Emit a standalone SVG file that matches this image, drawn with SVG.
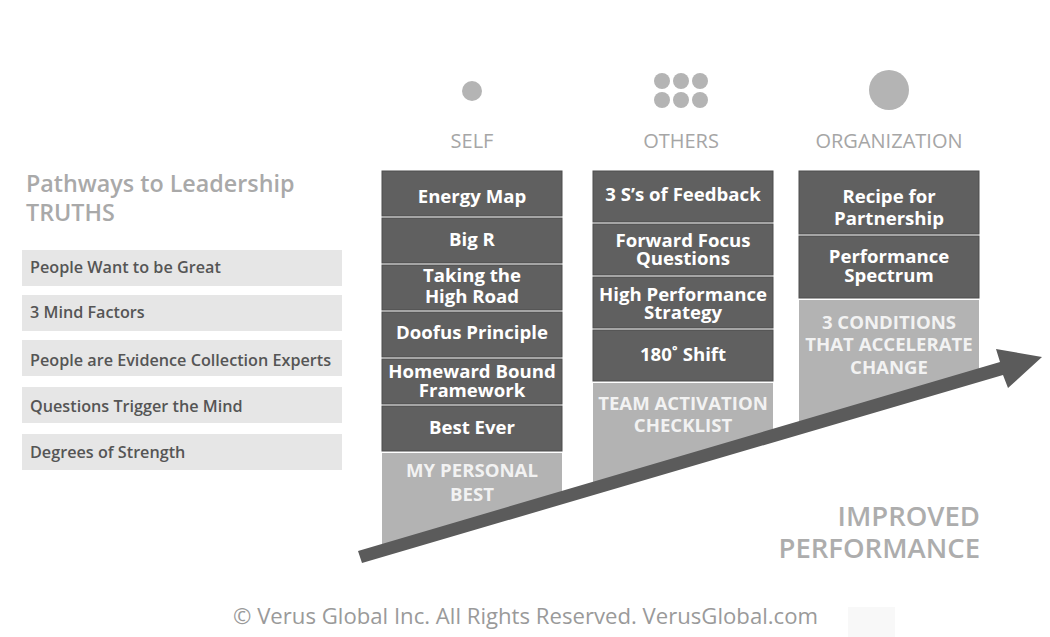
<svg xmlns="http://www.w3.org/2000/svg" width="1050" height="637" viewBox="0 0 1050 637">
  <style>
    .bg { fill: #ffffff; }
    .title { font-family: "Open Sans", "Liberation Sans", sans-serif; font-size: 23.3px; font-weight: 600; fill: #a9a9a9; }
    .truth rect { fill: #e6e6e6; }
    .truth text { font-family: "Open Sans", "Liberation Sans", sans-serif; font-size: 16.2px; font-weight: 600; fill: #555555; }
    .head { font-family: "Open Sans", "Liberation Sans", sans-serif; font-size: 20px; font-weight: 400; fill: #a6a6a6; text-anchor: middle; }
    .icon { fill: #b4b4b4; }
    .tool rect { fill: #606060; stroke: #4c4c4c; stroke-width: 1; }
    .tool text { font-family: "Open Sans", "Liberation Sans", sans-serif; font-size: 18.6px; font-weight: 700; fill: #ffffff; text-anchor: middle; }
    .core polygon { fill: #b3b3b3; stroke: none; }
    .core text { font-family: "Open Sans", "Liberation Sans", sans-serif; font-size: 18.6px; font-weight: 700; fill: #f2f2f2; text-anchor: middle; }
    .result { font-family: "Open Sans", "Liberation Sans", sans-serif; font-size: 27.5px; font-weight: 600; fill: #adadad; text-anchor: end; }
    .copy { font-family: "Open Sans", "Liberation Sans", sans-serif; font-size: 22px; font-weight: 400; fill: #9a9a9a; }
    .arrow { fill: #5b5b5b; }
  </style>

  <rect class="bg" x="0" y="0" width="1050" height="637"/>

  <!-- Left panel: leadership truths -->
  <g id="truths-title">
    <text class="title" x="26" y="192">Pathways to Leadership</text>
    <text class="title" x="26" y="221">TRUTHS</text>
  </g>
  <g id="truth-1" class="truth"><rect x="22" y="250" width="320" height="36"/><text x="30" y="273">People Want to be Great</text></g>
  <g id="truth-2" class="truth"><rect x="22" y="295" width="320" height="36"/><text x="30" y="318">3 Mind Factors</text></g>
  <g id="truth-3" class="truth"><rect x="22" y="340" width="320" height="36"/><text x="30" y="366">People are Evidence Collection Experts</text></g>
  <g id="truth-4" class="truth"><rect x="22" y="387" width="320" height="36"/><text x="30" y="412">Questions Trigger the Mind</text></g>
  <g id="truth-5" class="truth"><rect x="22" y="434" width="320" height="36"/><text x="30" y="458">Degrees of Strength</text></g>

  <!-- Column headers with icons -->
  <g id="head-self">
    <circle class="icon" cx="472" cy="91" r="10"/>
    <text class="head" x="472" y="148">SELF</text>
  </g>
  <g id="head-others">
    <circle class="icon" cx="662" cy="81" r="8"/>
    <circle class="icon" cx="681" cy="81" r="8"/>
    <circle class="icon" cx="700" cy="81" r="8"/>
    <circle class="icon" cx="662" cy="100" r="8"/>
    <circle class="icon" cx="681" cy="100" r="8"/>
    <circle class="icon" cx="700" cy="100" r="8"/>
    <text class="head" x="681" y="148">OTHERS</text>
  </g>
  <g id="head-organization">
    <circle class="icon" cx="889" cy="90" r="20"/>
    <text class="head" x="889" y="148">ORGANIZATION</text>
  </g>

  <!-- SELF column -->
  <g id="self-energy-map" class="tool"><rect x="382" y="171" width="180" height="45"/><text x="472" y="203">Energy Map</text></g>
  <g id="self-big-r" class="tool"><rect x="382" y="218" width="180" height="45"/><text x="472" y="246">Big R</text></g>
  <g id="self-high-road" class="tool"><rect x="382" y="265" width="180" height="45"/><text x="472" y="282">Taking the</text><text x="472" y="303">High Road</text></g>
  <g id="self-doofus" class="tool"><rect x="382" y="312" width="180" height="45"/><text x="472" y="339">Doofus Principle</text></g>
  <g id="self-homeward" class="tool"><rect x="382" y="359" width="180" height="45"/><text x="472" y="378">Homeward Bound</text><text x="472" y="397">Framework</text></g>
  <g id="self-best-ever" class="tool"><rect x="382" y="406" width="180" height="45"/><text x="472" y="434">Best Ever</text></g>
  <g id="self-core" class="core"><polygon points="382,453 562,453 562,497 382,550"/><text x="472" y="477">MY PERSONAL</text><text x="472" y="501">BEST</text></g>

  <!-- OTHERS column -->
  <g id="others-feedback" class="tool"><rect x="593" y="171" width="180" height="51"/><text x="683" y="201">3 S’s of Feedback</text></g>
  <g id="others-forward-focus" class="tool"><rect x="593" y="224" width="180" height="51"/><text x="683" y="247">Forward Focus</text><text x="683" y="265">Questions</text></g>
  <g id="others-strategy" class="tool"><rect x="593" y="277" width="180" height="51"/><text x="683" y="301">High Performance</text><text x="683" y="319">Strategy</text></g>
  <g id="others-shift" class="tool"><rect x="593" y="330" width="180" height="51"/><text x="683" y="361">180˚ Shift</text></g>
  <g id="others-core" class="core"><polygon points="593,383 773,383 773,435 593,488"/><text x="683" y="410">TEAM ACTIVATION</text><text x="683" y="432">CHECKLIST</text></g>

  <!-- ORGANIZATION column -->
  <g id="org-partnership" class="tool"><rect x="799" y="171" width="180" height="63"/><text x="889" y="203">Recipe for</text><text x="889" y="225">Partnership</text></g>
  <g id="org-spectrum" class="tool"><rect x="799" y="236" width="180" height="62"/><text x="889" y="263">Performance</text><text x="889" y="282">Spectrum</text></g>
  <g id="org-core" class="core"><polygon points="799,300 979,300 979,375 799,428"/><text x="889" y="329">3 CONDITIONS</text><text x="889" y="351">THAT ACCELERATE</text><text x="889" y="374">CHANGE</text></g>

  <!-- Rising arrow -->
  <g id="connectors">
    <polygon class="arrow" points="358,551 1000,362 996,349 1042,357 1008,388 1003,375 362,563"/>
  </g>

  <g id="result">
    <text class="result" x="980" y="526">IMPROVED</text>
    <text class="result" x="980" y="558">PERFORMANCE</text>
  </g>

  <!-- Footer -->
  <g id="footer">
    <rect x="848" y="607" width="47" height="30" fill="#f8f8f8"/>
    <text class="copy" x="233" y="624" textLength="585" lengthAdjust="spacingAndGlyphs">© Verus Global Inc. All Rights Reserved. VerusGlobal.com</text>
  </g>
</svg>
